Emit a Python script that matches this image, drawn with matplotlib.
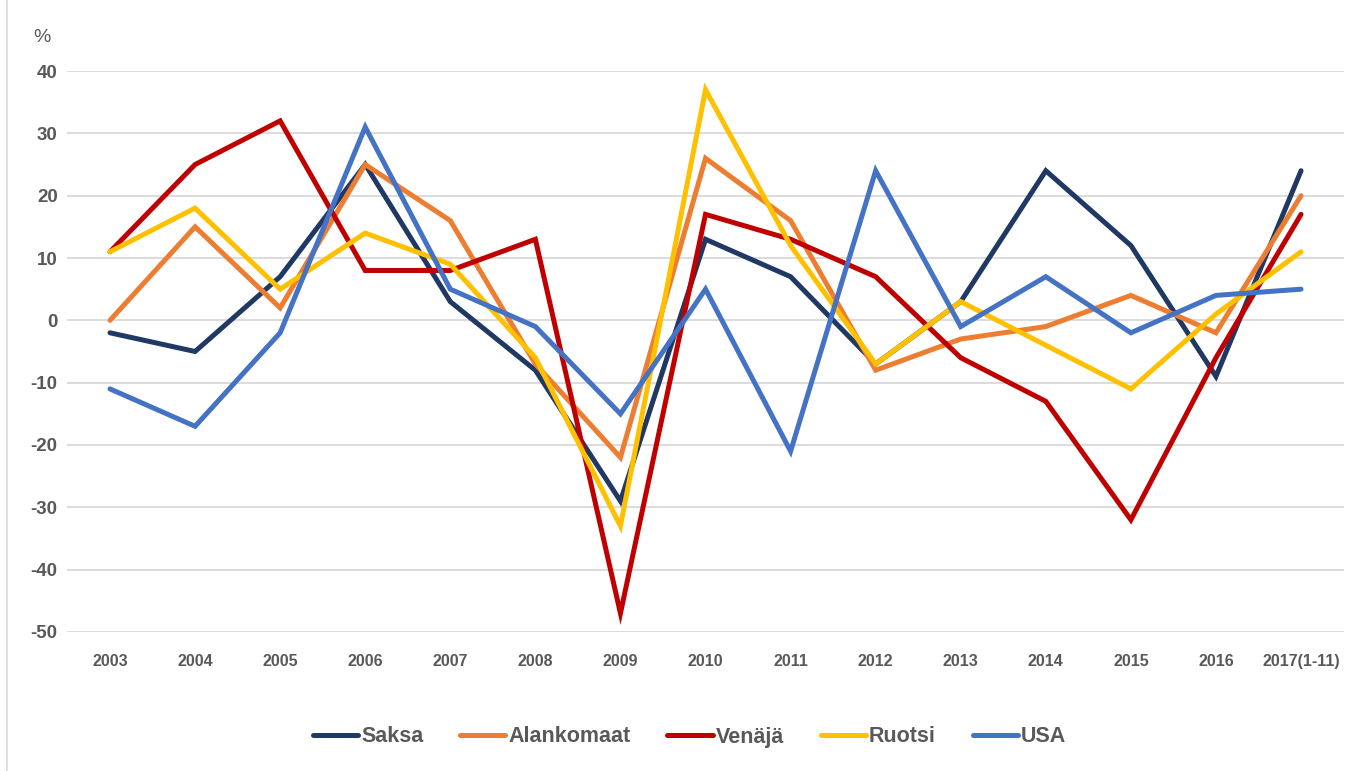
import matplotlib
matplotlib.use("Agg")
import matplotlib.pyplot as plt
from matplotlib.lines import Line2D

# Vientien muutos maittain, %
years = ["2003", "2004", "2005", "2006", "2007", "2008", "2009", "2010",
         "2011", "2012", "2013", "2014", "2015", "2016", "2017(1-11)"]

saksa = [-2, -5, 7, 25, 3, -8, -29, 13, 7, -7, 3, 24, 12, -9, 24]
alankomaat = [0, 15, 2, 25, 16, -7, -22, 26, 16, -8, -3, -1, 4, -2, 20]
venaja = [11, 25, 32, 8, 8, 13, -47, 17, 13, 7, -6, -13, -32, -6, 17]
ruotsi = [11, 18, 5, 14, 9, -6, -33, 37, 12, -7, 3, -4, -11, 1, 11]
usa = [-11, -17, -2, 31, 5, -1, -15, 5, -21, 24, -1, 7, -2, 4, 5]

series = [
    ("Saksa", saksa, "#203864"),
    ("Alankomaat", alankomaat, "#ED7D31"),
    ("Venäjä", venaja, "#C00000"),
    ("Ruotsi", ruotsi, "#FFC000"),
    ("USA", usa, "#4472C4"),
]

plt.rcParams['font.family'] = ['Liberation Sans', 'DejaVu Sans']
plt.rcParams['axes.unicode_minus'] = False
text_col = "#595959"

fig = plt.figure(figsize=(13.71, 7.71), dpi=100)
ax = fig.add_axes([0.0492, 0.1803, 0.9308, 0.7276])

x = list(range(len(years)))
for name, vals, col in series:
    ax.plot(x, vals, color=col, lw=3.6, label=name, solid_capstyle='round',
            solid_joinstyle='miter')

ax.set_xlim(-0.5, len(years) - 0.5)
ax.set_ylim(-50, 40)
ax.set_yticks(range(-50, 41, 10))
ax.set_xticks(x)
ax.set_xticklabels(years)
ax.grid(axis='y', color="#D9D9D9", lw=1.3)
ax.set_axisbelow(True)
for s in ax.spines.values():
    s.set_visible(False)

ax.tick_params(axis='y', length=0, pad=7, labelsize=13.5, labelcolor=text_col)
ax.tick_params(axis='x', length=0, pad=16, labelsize=11.5, labelcolor=text_col)
for lab in ax.get_yticklabels() + ax.get_xticklabels():
    lab.set_fontweight('bold')

fig.text(42 / 1371, 1 - 38 / 771, "%", ha='center', va='center',
         fontsize=14, color=text_col)

leg = fig.legend(loc='center', bbox_to_anchor=(0.503, 1 - 737 / 771), ncol=5,
                 frameon=False, fontsize=15.5, handlelength=2.1,
                 handletextpad=0.15, columnspacing=1.7)
for t in leg.get_texts():
    t.set_color(text_col)
    t.set_fontweight('bold')

# reunaviiva vasemmalla
fig.add_artist(Line2D([7 / 1371, 7 / 1371], [0, 1], color="#D9D9D9", lw=1.2,
                      transform=fig.transFigure))

fig.savefig("out.png", dpi=100)
